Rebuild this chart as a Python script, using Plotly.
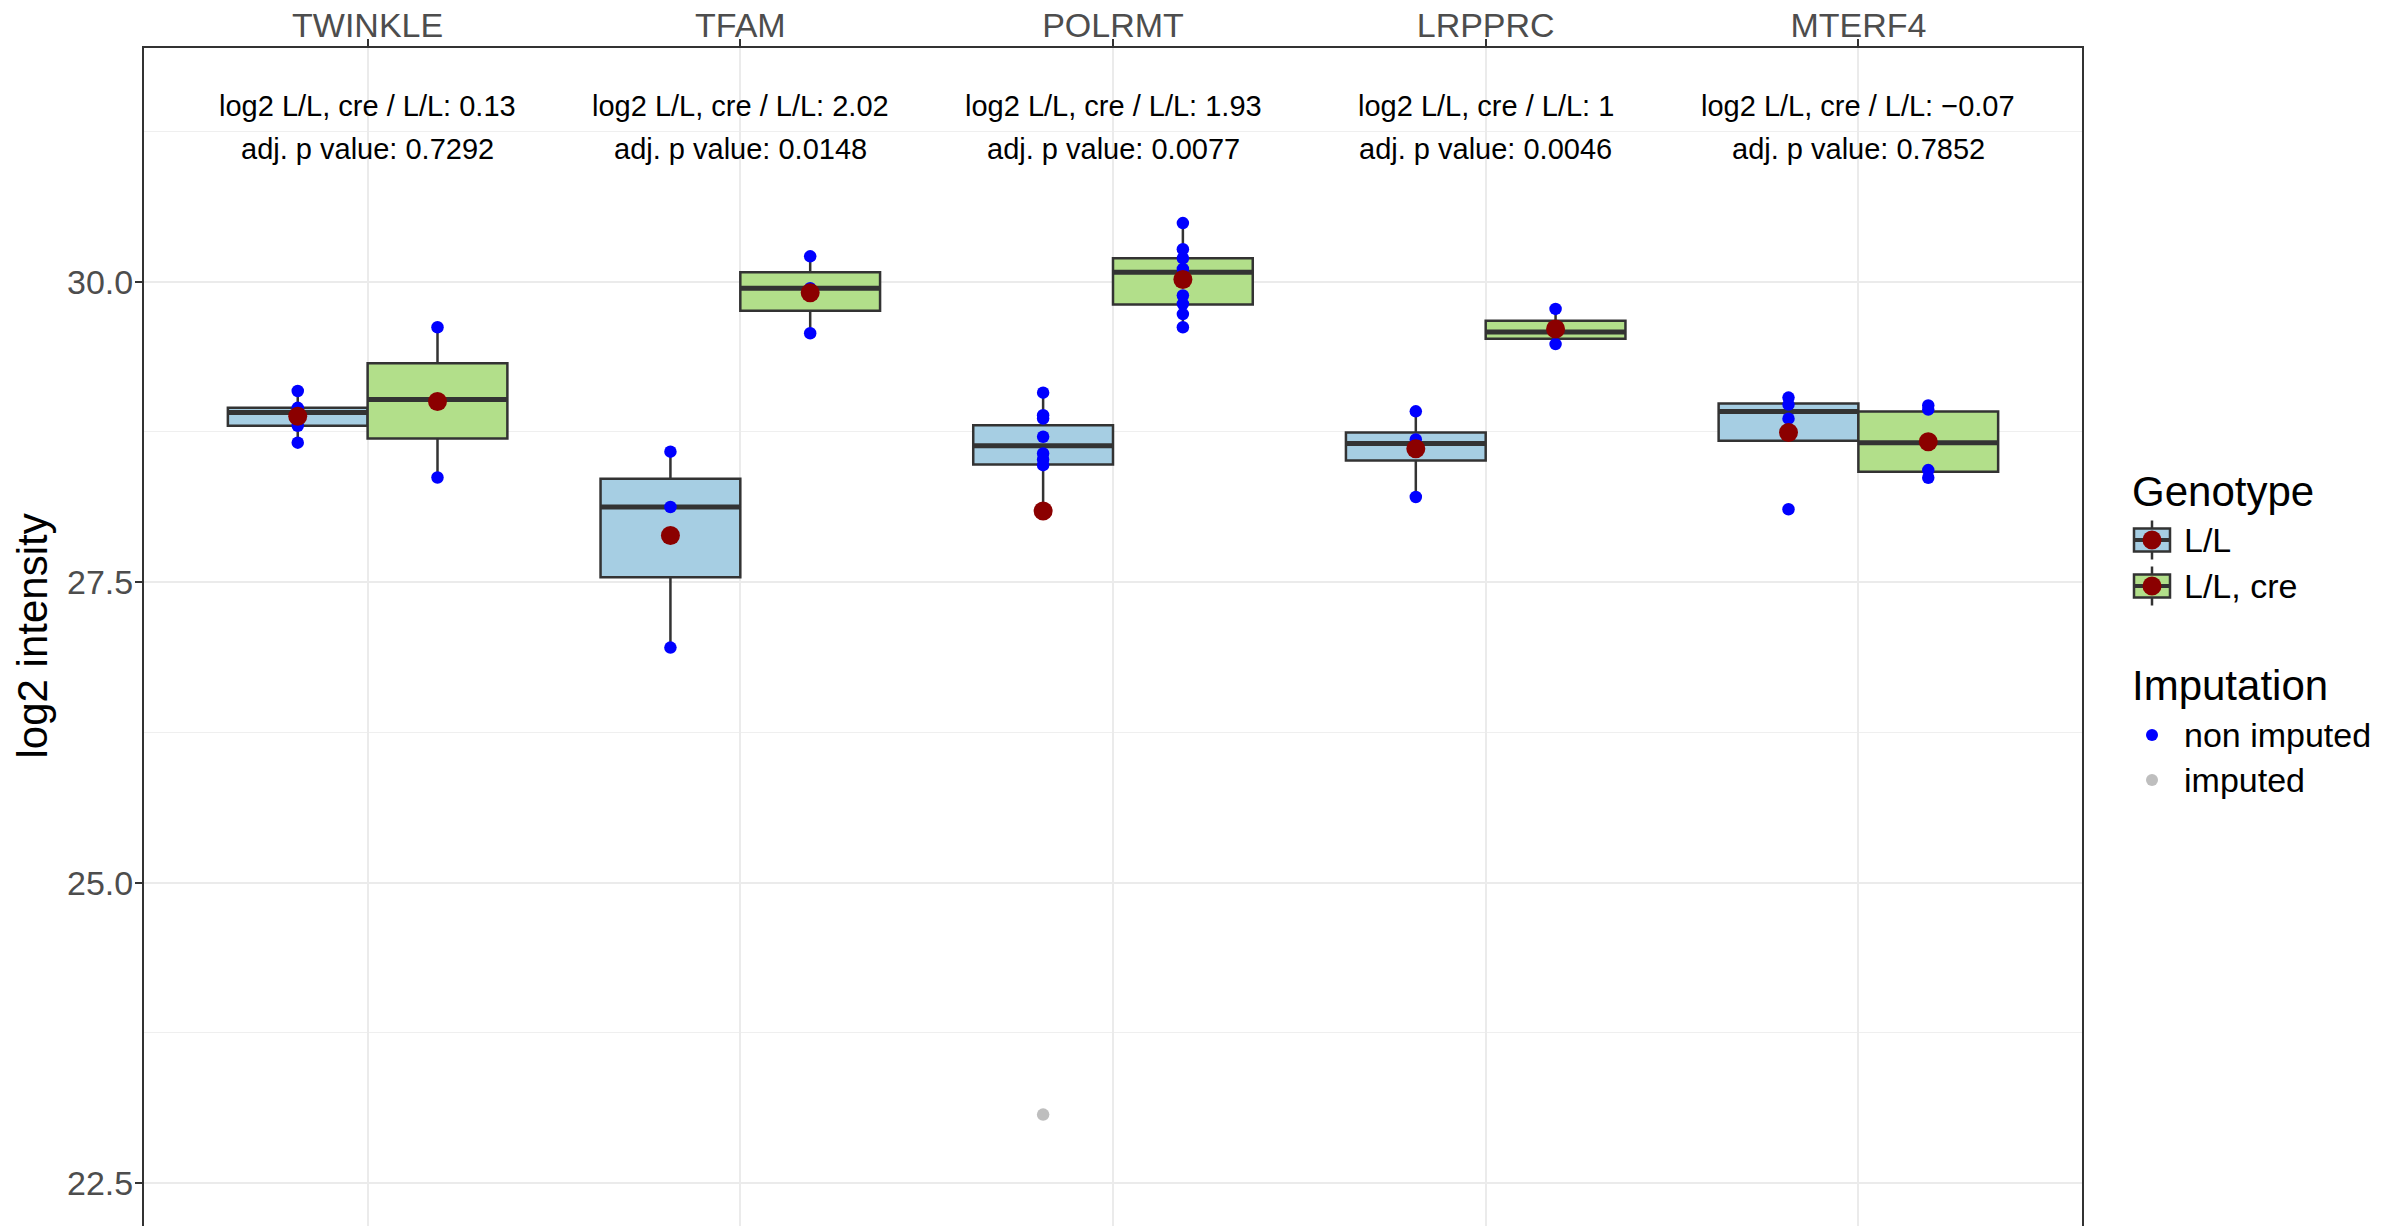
import plotly.graph_objects as go

# ---------------- data ----------------
genes = ["TWINKLE", "TFAM", "POLRMT", "LRPPRC", "MTERF4"]

# box statistics, genotype L/L
ll_q1 = [28.80, 27.54, 28.479, 28.512, 28.675]
ll_median = [28.91, 28.125, 28.634, 28.653, 28.92]
ll_q3 = [28.95, 28.36, 28.805, 28.744, 28.985]
ll_lower = [28.66, 26.955, 28.10, 28.208, 28.675]
ll_upper = [29.09, 28.585, 29.076, 28.921, 29.035]
ll_mean = [28.88, 27.888, 28.092, 28.61, 28.744]

# box statistics, genotype L/L, cre
cre_q1 = [28.695, 29.7575, 29.81, 29.524, 28.418]
cre_median = [29.02, 29.945, 30.077, 29.58, 28.659]
cre_q3 = [29.32, 30.0775, 30.194, 29.674, 28.92]
cre_lower = [28.37, 29.57, 29.62, 29.48, 28.368]
cre_upper = [29.62, 30.21, 30.487, 29.773, 28.97]
cre_mean = [29.003, 29.908, 30.017, 29.605, 28.667]

# individual (non imputed) values
ll_points = [
    [29.09, 28.95, 28.91, 28.80, 28.66],
    [28.585, 28.125, 26.955],
    [29.076, 28.888, 28.861, 28.709, 28.57, 28.52, 28.473, 28.10],
    [28.921, 28.686, 28.208],
    [29.035, 28.977, 28.86, 28.106],
]
cre_points = [
    [29.62, 29.02, 28.37],
    [30.21, 29.945, 29.57],
    [30.487, 30.27, 30.194, 30.105, 29.884, 29.815, 29.73, 29.62],
    [29.773, 29.58, 29.48],
    [28.97, 28.935, 28.432, 28.368],
]
# imputed values (gene, genotype, value)
imputed_gene = ["POLRMT"]
imputed_genotype = ["L/L"]
imputed_value = [23.07]

log2_ratio = ["0.13", "2.02", "1.93", "1", "\u22120.07"]
adj_p = ["0.7292", "0.0148", "0.0077", "0.0046", "0.7852"]

y_ticks = [22.5, 25.0, 27.5, 30.0]

# ---------------- styling ----------------
FONT = "Liberation Sans, Arial, Helvetica, sans-serif"
C_LL = "#A6CEE3"
C_CRE = "#B2DF8A"
C_LINE = "#333333"
C_MEAN = "#8B0000"
C_PT = "#0000FF"
C_IMP = "#BEBEBE"
DODGE = 0.1875
BW = 0.375

W, H = 2384, 1226
OFF = 8  # default body margin of the page
# panel edges in page pixels
L, R, T = 144, 2082, 48
B = H + OFF  # panel bottom (beyond visible window)

# y value <-> page pixel: 30.0 at 281.6, 120.2 px per unit
Y30, PPU = 281.6, 120.2
y_top = 30 + (Y30 - T) / PPU
y_bot = 30 - (B - Y30) / PPU

idx = list(range(len(genes)))
fig = go.Figure()

groups = [
    ("L/L", -DODGE, C_LL, ll_q1, ll_median, ll_q3, ll_lower, ll_upper, ll_mean, ll_points),
    ("L/L, cre", DODGE, C_CRE, cre_q1, cre_median, cre_q3, cre_lower, cre_upper, cre_mean, cre_points),
]

for name, off, col, q1, med, q3, lo, up, mean, pts in groups:
    xs = [i + off for i in idx]
    fig.add_trace(go.Box(
        x=xs, q1=q1, median=med, q3=q3, lowerfence=lo, upperfence=up,
        width=BW, whiskerwidth=0, fillcolor=col,
        line=dict(color=C_LINE, width=2.5), boxpoints=False,
        showlegend=False, hoverinfo="skip", name=name))

for name, off, col, q1, med, q3, lo, up, mean, pts in groups:
    mx, my = [], []
    for i, m in zip(idx, med):
        mx += [i + off - BW / 2, i + off + BW / 2, None]
        my += [m, m, None]
    fig.add_trace(go.Scatter(x=mx, y=my, mode="lines",
                             line=dict(color=C_LINE, width=5),
                             showlegend=False, hoverinfo="skip"))

# imputed points
ix = [genes.index(g) + (-DODGE if gt == "L/L" else DODGE)
      for g, gt in zip(imputed_gene, imputed_genotype)]
fig.add_trace(go.Scatter(x=ix, y=imputed_value, mode="markers",
                         marker=dict(color=C_IMP, size=12.5, line=dict(width=0)),
                         showlegend=False, hoverinfo="skip"))

for name, off, col, q1, med, q3, lo, up, mean, pts in groups:
    px_, py_ = [], []
    for i, p in zip(idx, pts):
        px_ += [i + off] * len(p)
        py_ += p
    fig.add_trace(go.Scatter(x=px_, y=py_, mode="markers",
                             marker=dict(color=C_PT, size=12.5, line=dict(width=0)),
                             showlegend=False, hoverinfo="skip"))

for name, off, col, q1, med, q3, lo, up, mean, pts in groups:
    fig.add_trace(go.Scatter(x=[i + off for i in idx], y=mean, mode="markers",
                             marker=dict(color=C_MEAN, size=19, line=dict(width=0)),
                             showlegend=False, hoverinfo="skip"))

annotations = []
for i, r, p in zip(idx, log2_ratio, adj_p):
    annotations.append(dict(x=i, y=31.46, xref="x", yref="y",
                            text=f"log2 L/L, cre / L/L: {r}", showarrow=False,
                            xanchor="center", yanchor="middle",
                            font=dict(family=FONT, size=29, color="black")))
    annotations.append(dict(x=i, y=31.10, xref="x", yref="y",
                            text=f"adj. p value: {p}", showarrow=False,
                            xanchor="center", yanchor="middle",
                            font=dict(family=FONT, size=29, color="black")))


def xp(px):
    return (px - L) / (R - L)


def yp(py):
    return (B - py) / (B - T)


# y axis title
annotations.append(dict(x=xp(31.5), y=yp(636), xref="paper", yref="paper",
                        text="log2 intensity", textangle=-90, showarrow=False,
                        xanchor="center", yanchor="middle",
                        font=dict(family=FONT, size=42, color="black")))

# manual legend
shapes = []
LX = 2152
for cy, col, lab in [(540, C_LL, "L/L"), (586, C_CRE, "L/L, cre")]:
    shapes.append(dict(type="line", xref="paper", yref="paper",
                       x0=xp(LX), x1=xp(LX), y0=yp(cy - 19.5), y1=yp(cy + 19.5),
                       line=dict(color=C_LINE, width=2.5)))
    shapes.append(dict(type="rect", xref="paper", yref="paper",
                       x0=xp(LX - 18), x1=xp(LX + 18), y0=yp(cy + 11.5), y1=yp(cy - 11.5),
                       fillcolor=col, line=dict(color=C_LINE, width=2.5)))
    shapes.append(dict(type="line", xref="paper", yref="paper",
                       x0=xp(LX - 18), x1=xp(LX + 18), y0=yp(cy), y1=yp(cy),
                       line=dict(color=C_LINE, width=4)))
    shapes.append(dict(type="circle", xref="paper", yref="paper",
                       x0=xp(LX - 9.5), x1=xp(LX + 9.5), y0=yp(cy + 9.5), y1=yp(cy - 9.5),
                       fillcolor=C_MEAN, line=dict(width=0)))
    annotations.append(dict(x=xp(2182), y=yp(cy), xref="paper", yref="paper",
                            text=lab, showarrow=False, xanchor="left", yanchor="middle",
                            font=dict(family=FONT, size=34, color="black")))

for cy, col, lab in [(735, C_PT, "non imputed"), (780, C_IMP, "imputed")]:
    shapes.append(dict(type="circle", xref="paper", yref="paper",
                       x0=xp(LX - 6), x1=xp(LX + 6), y0=yp(cy + 6), y1=yp(cy - 6),
                       fillcolor=col, line=dict(width=0)))
    annotations.append(dict(x=xp(2182), y=yp(cy), xref="paper", yref="paper",
                            text=lab, showarrow=False, xanchor="left", yanchor="middle",
                            font=dict(family=FONT, size=34, color="black")))

for cy, lab in [(491, "Genotype"), (685, "Imputation")]:
    annotations.append(dict(x=xp(2130), y=yp(cy), xref="paper", yref="paper",
                            text=lab, showarrow=False, xanchor="left", yanchor="middle",
                            font=dict(family=FONT, size=42, color="black")))

fig.update_layout(
    width=W, height=H,
    margin=dict(l=L - OFF, r=W - (R - OFF), t=T - OFF, b=0, pad=0, autoexpand=False),
    paper_bgcolor="white", plot_bgcolor="white",
    font=dict(family=FONT),
    showlegend=False,
    annotations=annotations,
    shapes=shapes,
    xaxis=dict(
        range=[-0.6, len(genes) - 0.4], side="top", automargin=False,
        tickmode="array", tickvals=idx, ticktext=genes,
        ticks="outside", ticklen=7, tickwidth=2, tickcolor=C_LINE,
        tickfont=dict(family=FONT, size=34, color="#4D4D4D"),
        ticklabelstandoff=-12,
        showgrid=True, gridcolor="#EBEBEB", gridwidth=2,
        showline=True, linecolor=C_LINE, linewidth=2, mirror=False,
        zeroline=False, fixedrange=True,
    ),
    yaxis=dict(
        range=[y_bot, y_top], automargin=False,
        tickmode="array", tickvals=y_ticks, ticktext=[f"{v:.1f}" for v in y_ticks],
        ticks="outside", ticklen=7, tickwidth=2, tickcolor=C_LINE,
        tickfont=dict(family=FONT, size=34, color="#4D4D4D"),
        ticklabelstandoff=-5,
        showgrid=True, gridcolor="#EBEBEB", gridwidth=2,
        minor=dict(tickmode="array", tickvals=[23.75, 26.25, 28.75, 31.25],
                   showgrid=True, gridcolor="#EFEFEF", gridwidth=1.2, ticks=""),
        showline=True, linecolor=C_LINE, linewidth=2, mirror=True,
        zeroline=False, fixedrange=True,
    ),
)

fig.write_html("out.html")
